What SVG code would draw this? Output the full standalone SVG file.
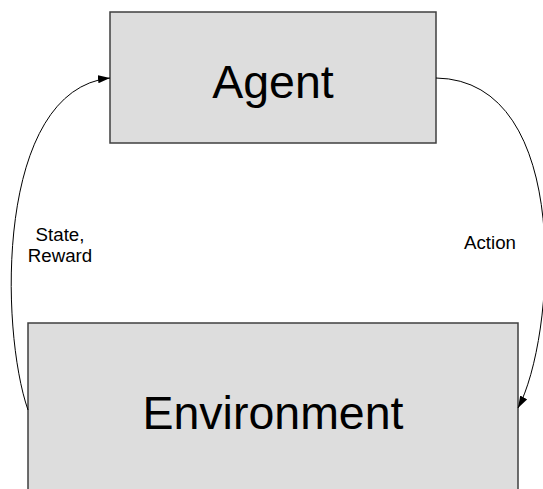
<svg xmlns="http://www.w3.org/2000/svg" width="543" height="489" viewBox="0 0 543 489">
  <style>
    .box { fill: #dddddd; stroke: #3f3f3f; stroke-width: 1.5; }
    .big { font-family: "Liberation Sans", Arial, sans-serif; font-size: 46.5px; fill: #000; text-anchor: middle; }
    .lbl { font-family: "Liberation Sans", Arial, sans-serif; font-size: 18.7px; fill: #000; text-anchor: middle; }
    .edge { fill: none; stroke: #000; stroke-width: 1; }
  </style>
  <defs>
    <marker id="arrow" viewBox="0 0 12 8" refX="12" refY="4" markerWidth="12" markerHeight="8" markerUnits="userSpaceOnUse" orient="auto">
      <path d="M0,0 L12,4 L0,8 Z" fill="#000"/>
    </marker>
  </defs>
  <rect width="543" height="489" fill="#fff"/>
  <g id="agent">
    <rect class="box" x="110" y="12" width="326" height="131"/>
    <text class="big" x="273" y="98">Agent</text>
  </g>
  <g id="environment">
    <rect class="box" x="28" y="323" width="490" height="180"/>
    <text class="big" x="273" y="429">Environment</text>
  </g>
  <g id="connectors">
    <path class="edge" d="M28,410 C0,330 -5,90 110,78" marker-end="url(#arrow)"/>
    <path class="edge" d="M436,78 C575,80 555,340 518,408" marker-end="url(#arrow)"/>
    <text class="lbl" x="60" y="241">State,</text>
    <text class="lbl" x="60" y="262">Reward</text>
    <text class="lbl" x="490" y="249">Action</text>
  </g>
</svg>
